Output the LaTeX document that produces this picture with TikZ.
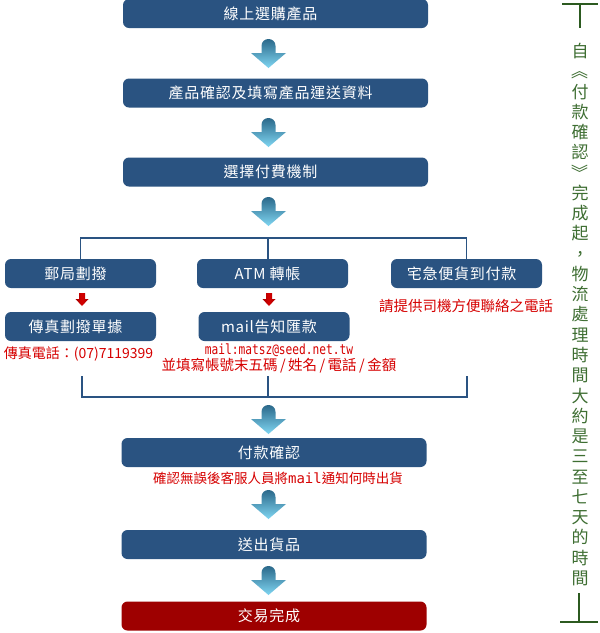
\documentclass[tikz,border=0pt]{standalone}
\usepackage{fontspec}
\newfontfamily\cjk{Noto Sans CJK TC}
\newfontfamily\cjkwide[LetterSpace=5]{Noto Sans CJK TC}
\newfontfamily\mono{DejaVu Sans Mono}
\newfontfamily\narrowmono[FakeStretch=0.8]{DejaVu Sans Mono}
\definecolor{boxblue}{RGB}{42,83,129}
\definecolor{donered}{RGB}{158,0,0}
\definecolor{notered}{RGB}{214,0,0}
\definecolor{lineblue}{RGB}{42,83,130}
\definecolor{arrowtop}{RGB}{36,96,130}
\definecolor{arrowlow}{RGB}{128,214,242}
\definecolor{bargreen}{RGB}{44,90,32}
\definecolor{textgreen}{RGB}{62,110,50}

\begin{document}
\begin{tikzpicture}
    [x=1pt,y=-1pt,inner sep=0pt,
     stepbox/.style={rectangle,rounded corners=6pt,fill=boxblue,text=white,minimum width=305pt,minimum height=29pt,
       font=\cjkwide\fontsize{15}{16}\selectfont,execute at end node={\hspace*{10pt}}},
     paybox/.style={stepbox,minimum width=151pt,execute at end node={}},
     note/.style={text=notered,font=\cjk\fontsize{14}{14}\selectfont},
     branch/.style={draw=lineblue,line width=1.5pt},
     bar/.style={draw=bargreen,line width=2.5pt},
     bigarrow/.pic={\shade[top color=arrowtop,bottom color=arrowlow]
       (-7,14) -- (-7,7) .. controls (-7,-2.3) and (7,-2.3) .. (7,7) -- (7,14)
       -- (17.5,14) -- (0,29) -- (-17.5,14) -- cycle;},
     redarrow/.pic={\shade[left color=red!65!black,right color=red!65!black,middle color=notered]
       (-3,0) -- (3,0) -- (3,6) -- (6.5,6) -- (0,13) -- (-6.5,6) -- (-3,6) -- cycle;}]
    \fill[white] (0,0) rectangle (600,633);
    \useasboundingbox (0,0) rectangle (600,633);
    \node (buy) at (275.5,13.5) [stepbox] {線上選購產品};
    \node (fill) at (275.5,93) [stepbox] {產品確認及填寫產品運送資料};
    \node (choose) at (275.5,172) [stepbox] {選擇付費機制};
    \node (post) at (80.5,273.5) [paybox] {郵局劃撥};
    \node (atm) at (272.5,273.5) [paybox] {ATM 轉帳};
    \node (cod) at (466.5,273.5) [paybox] {宅急便貨到付款};
    \node (fax) at (80.5,326.5) [paybox] {傳真劃撥單據};
    \node (mail) at (274,326.5) [paybox] {mail告知匯款};
    \node (check) at (274,452.5) [stepbox] {付款確認};
    \node (ship) at (274,544.5) [stepbox] {送出貨品};
    \node (done) at (274,616) [stepbox,fill=donered] {交易完成};
    \node (faxnote) at (78.5,354) [note] {傳真電話：(07)7119399};
    \node (mailnote) at (279,358.5) [note,align=center,font=\cjk\fontsize{14.5}{13.5}\selectfont]
      {{\narrowmono\fontsize{14}{13.5}\selectfont mail:matsz@seed.net.tw}\\並填寫帳號末五碼\,/\,姓名\,/\,電話\,/\,金額};
    \node (codnote) at (466,306) [note,font=\cjk\fontsize{14.5}{15}\selectfont] {請提供司機方便聯絡之電話};
    \node (checknote) at (278,478) [note,font=\cjk\fontsize{13.5}{14}\selectfont] {確認無誤後客服人員將{\mono\fontsize{14}{14}\selectfont mail}通知何時出貨};
    \foreach \y in {39,118,197,405,490,566}
      \pic at (268.5,\y) {bigarrow};
    \foreach \x in {82,269}
      \pic at (\x,293) {redarrow};
    \coordinate (split) at (268,238);
    \draw [branch] (post.north) |- (split) -| (cod.north);
    \draw [branch] (split) -- (split |- atm.north);
    \coordinate (merge) at (268,397);
    \coordinate (faxdrop) at (82,376);
    \coordinate (maildrop) at (268,376);
    \coordinate (coddrop) at (467,376);
    \draw [branch] (faxdrop) |- (merge) -| (coddrop);
    \draw [branch] (maildrop) -- (merge);
    \coordinate (topbar) at (580,4);
    \coordinate (lowbar) at (579,622);
    \draw [bar] ([xshift=-18pt]topbar) -- ([xshift=18pt]topbar) (topbar) -- ++(0,24);
    \draw [bar] ([xshift=-19pt]lowbar) -- ([xshift=19pt]lowbar) (lowbar) -- ++(0,-29);
    \node (span) at (580,314.5) [text=textgreen,align=center,font=\cjk\fontsize{17}{20.27}\selectfont]
      {自\\\rotatebox[origin=c]{-90}{《}\\付\\款\\確\\認\\\rotatebox[origin=c]{-90}{》}\\完\\成\\起\\，\\物\\流\\處\\理\\時\\間\\大\\約\\是\\三\\至\\七\\天\\的\\時\\間};
  \end{tikzpicture}
\end{document}
